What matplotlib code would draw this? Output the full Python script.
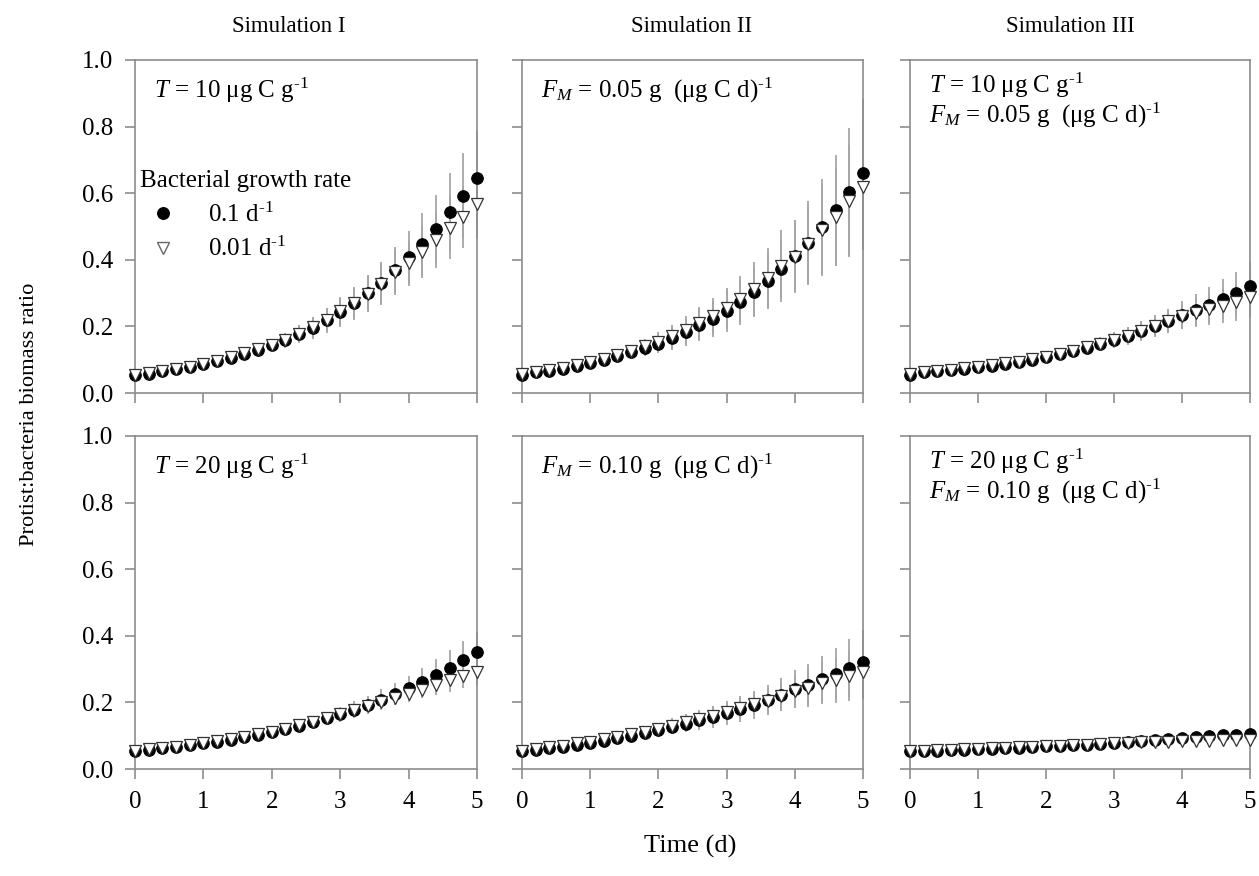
import matplotlib
matplotlib.use("Agg")
import matplotlib.pyplot as plt
from matplotlib.lines import Line2D

plt.rcParams['font.family'] = ['Liberation Serif', 'DejaVu Serif']
plt.rcParams['mathtext.fontset'] = 'custom'
plt.rcParams['mathtext.rm'] = 'Liberation Serif'
plt.rcParams['mathtext.it'] = 'Liberation Serif:italic'

# time grid (d)
times = [0.0, 0.2, 0.4, 0.6, 0.8, 1.0, 1.2, 1.4, 1.6, 1.8, 2.0, 2.2, 2.4,
         2.6, 2.8, 3.0, 3.2, 3.4, 3.6, 3.8, 4.0, 4.2, 4.4, 4.6, 4.8, 5.0]

# Simulation I, T = 10
sim1_t10_fast = [0.053, 0.058, 0.065, 0.071, 0.078, 0.086, 0.095, 0.106, 0.118, 0.130, 0.143, 0.158, 0.176,
                 0.195, 0.218, 0.244, 0.269, 0.299, 0.329, 0.369, 0.407, 0.447, 0.492, 0.543, 0.593, 0.647]
sim1_t10_slow = [0.054, 0.059, 0.066, 0.072, 0.079, 0.087, 0.096, 0.107, 0.119, 0.131, 0.145, 0.160, 0.178,
                 0.197, 0.220, 0.245, 0.270, 0.298, 0.328, 0.362, 0.389, 0.424, 0.459, 0.496, 0.528, 0.568]
sim1_t10_fast_sd = [0.003, 0.004, 0.005, 0.006, 0.007, 0.008, 0.009, 0.010, 0.012, 0.015, 0.018, 0.022, 0.027,
                    0.032, 0.038, 0.045, 0.050, 0.055, 0.065, 0.070, 0.079, 0.093, 0.103, 0.117, 0.127, 0.140]
sim1_t10_slow_sd = [0.003, 0.004, 0.005, 0.006, 0.007, 0.008, 0.009, 0.010, 0.012, 0.014, 0.017, 0.021, 0.025,
                    0.030, 0.035, 0.041, 0.046, 0.054, 0.059, 0.068, 0.068, 0.078, 0.085, 0.095, 0.094, 0.105]

# Simulation II, F_M = 0.05
sim2_f05_fast = [0.055, 0.062, 0.067, 0.073, 0.080, 0.090, 0.098, 0.110, 0.122, 0.134, 0.148, 0.164, 0.182,
                 0.203, 0.222, 0.246, 0.272, 0.302, 0.336, 0.372, 0.411, 0.451, 0.499, 0.550, 0.603, 0.662]
sim2_f05_slow = [0.056, 0.063, 0.069, 0.075, 0.083, 0.093, 0.102, 0.115, 0.127, 0.140, 0.154, 0.170, 0.189,
                 0.210, 0.231, 0.254, 0.282, 0.312, 0.344, 0.382, 0.409, 0.447, 0.490, 0.528, 0.577, 0.620]
sim2_f05_fast_sd = [0.002, 0.003, 0.004, 0.006, 0.007, 0.009, 0.011, 0.014, 0.018, 0.023, 0.028, 0.034, 0.041,
                    0.048, 0.055, 0.063, 0.067, 0.075, 0.083, 0.088, 0.105, 0.126, 0.143, 0.165, 0.192, 0.220]
sim2_f05_slow_sd = [0.002, 0.003, 0.004, 0.006, 0.007, 0.009, 0.011, 0.014, 0.018, 0.023, 0.028, 0.034, 0.041,
                    0.048, 0.055, 0.062, 0.070, 0.080, 0.092, 0.108, 0.110, 0.121, 0.138, 0.147, 0.168, 0.190]

# Simulation III, T = 10 and F_M = 0.05
sim3_a_fast = [0.055, 0.062, 0.065, 0.068, 0.073, 0.078, 0.082, 0.088, 0.093, 0.100, 0.108, 0.117, 0.125,
               0.135, 0.147, 0.159, 0.171, 0.187, 0.201, 0.216, 0.234, 0.249, 0.264, 0.281, 0.299, 0.321]
sim3_a_slow = [0.056, 0.063, 0.066, 0.069, 0.074, 0.079, 0.083, 0.089, 0.094, 0.101, 0.109, 0.118, 0.127,
               0.137, 0.148, 0.160, 0.172, 0.187, 0.201, 0.215, 0.230, 0.241, 0.251, 0.261, 0.272, 0.287]
sim3_a_fast_sd = [0.002, 0.003, 0.003, 0.004, 0.005, 0.006, 0.007, 0.008, 0.009, 0.010, 0.012, 0.014, 0.016,
                  0.018, 0.021, 0.024, 0.027, 0.030, 0.033, 0.037, 0.041, 0.047, 0.053, 0.060, 0.065, 0.072]
sim3_a_slow_sd = [0.002, 0.003, 0.003, 0.004, 0.005, 0.006, 0.007, 0.008, 0.009, 0.010, 0.012, 0.014, 0.016,
                  0.018, 0.020, 0.022, 0.025, 0.028, 0.031, 0.034, 0.038, 0.043, 0.048, 0.052, 0.055, 0.060]

# Simulation I, T = 20
sim1_t20_fast = [0.053, 0.058, 0.062, 0.066, 0.071, 0.077, 0.082, 0.088, 0.095, 0.103, 0.111, 0.120, 0.130,
                 0.140, 0.152, 0.164, 0.178, 0.192, 0.208, 0.225, 0.243, 0.260, 0.282, 0.303, 0.326, 0.350]
sim1_t20_slow = [0.054, 0.059, 0.063, 0.067, 0.072, 0.078, 0.083, 0.089, 0.096, 0.104, 0.112, 0.121, 0.131,
                 0.141, 0.152, 0.164, 0.177, 0.190, 0.202, 0.213, 0.224, 0.238, 0.251, 0.266, 0.280, 0.291]
sim1_t20_fast_sd = [0.002, 0.003, 0.003, 0.004, 0.004, 0.005, 0.006, 0.007, 0.008, 0.009, 0.011, 0.013, 0.015,
                    0.017, 0.019, 0.022, 0.025, 0.028, 0.031, 0.034, 0.037, 0.043, 0.048, 0.053, 0.057, 0.062]
sim1_t20_slow_sd = [0.002, 0.003, 0.003, 0.004, 0.004, 0.005, 0.006, 0.007, 0.008, 0.009, 0.010, 0.011, 0.013,
                    0.014, 0.016, 0.018, 0.019, 0.020, 0.021, 0.022, 0.023, 0.026, 0.030, 0.034, 0.038, 0.040]

# Simulation II, F_M = 0.10
sim2_f10_fast = [0.053, 0.058, 0.062, 0.066, 0.073, 0.078, 0.085, 0.092, 0.100, 0.108, 0.116, 0.126, 0.136,
                 0.146, 0.156, 0.168, 0.180, 0.193, 0.208, 0.223, 0.240, 0.253, 0.270, 0.286, 0.303, 0.321]
sim2_f10_slow = [0.054, 0.060, 0.065, 0.070, 0.077, 0.082, 0.089, 0.096, 0.104, 0.112, 0.120, 0.130, 0.140,
                 0.150, 0.160, 0.171, 0.183, 0.195, 0.205, 0.218, 0.233, 0.243, 0.258, 0.266, 0.278, 0.291]
sim2_f10_fast_sd = [0.002, 0.003, 0.004, 0.005, 0.006, 0.007, 0.009, 0.011, 0.013, 0.016, 0.019, 0.022, 0.025,
                    0.029, 0.033, 0.036, 0.039, 0.042, 0.045, 0.050, 0.056, 0.063, 0.070, 0.078, 0.087, 0.095]
sim2_f10_slow_sd = [0.002, 0.003, 0.004, 0.005, 0.006, 0.007, 0.009, 0.011, 0.013, 0.016, 0.019, 0.022, 0.025,
                    0.027, 0.028, 0.028, 0.031, 0.034, 0.038, 0.043, 0.050, 0.057, 0.064, 0.068, 0.075, 0.080]

# Simulation III, T = 20 and F_M = 0.10
sim3_b_fast = [0.053, 0.054, 0.055, 0.056, 0.058, 0.059, 0.061, 0.063, 0.064, 0.066, 0.068, 0.070, 0.072,
               0.073, 0.075, 0.078, 0.080, 0.083, 0.086, 0.090, 0.093, 0.096, 0.098, 0.101, 0.103, 0.105]
sim3_b_slow = [0.054, 0.055, 0.056, 0.057, 0.059, 0.060, 0.062, 0.063, 0.065, 0.067, 0.068, 0.070, 0.071,
               0.073, 0.075, 0.077, 0.078, 0.080, 0.081, 0.082, 0.083, 0.084, 0.085, 0.086, 0.087, 0.088]
sim3_b_fast_sd = [0.001, 0.001, 0.001, 0.001, 0.001, 0.001, 0.001, 0.002, 0.002, 0.002, 0.002, 0.002, 0.003,
                  0.003, 0.003, 0.003, 0.004, 0.004, 0.004, 0.005, 0.005, 0.006, 0.006, 0.007, 0.007, 0.008]
sim3_b_slow_sd = [0.001, 0.001, 0.001, 0.001, 0.001, 0.001, 0.001, 0.002, 0.002, 0.002, 0.002, 0.002, 0.002,
                  0.003, 0.003, 0.003, 0.003, 0.003, 0.004, 0.004, 0.004, 0.005, 0.005, 0.005, 0.006, 0.006]

col_titles = ['Simulation I', 'Simulation II', 'Simulation III']
panel_labels = [
    [r'$T$ = 10 μg C g$^{\text{-1}}$'],
    [r'$F_M$ = 0.05 g  (μg C d)$^{\text{-1}}$'],
    [r'$T$ = 10 μg C g$^{\text{-1}}$', r'$F_M$ = 0.05 g  (μg C d)$^{\text{-1}}$'],
    [r'$T$ = 20 μg C g$^{\text{-1}}$'],
    [r'$F_M$ = 0.10 g  (μg C d)$^{\text{-1}}$'],
    [r'$T$ = 20 μg C g$^{\text{-1}}$', r'$F_M$ = 0.10 g  (μg C d)$^{\text{-1}}$'],
]
panels = [
    (sim1_t10_fast, sim1_t10_slow, sim1_t10_fast_sd, sim1_t10_slow_sd),
    (sim2_f05_fast, sim2_f05_slow, sim2_f05_fast_sd, sim2_f05_slow_sd),
    (sim3_a_fast, sim3_a_slow, sim3_a_fast_sd, sim3_a_slow_sd),
    (sim1_t20_fast, sim1_t20_slow, sim1_t20_fast_sd, sim1_t20_slow_sd),
    (sim2_f10_fast, sim2_f10_slow, sim2_f10_fast_sd, sim2_f10_slow_sd),
    (sim3_b_fast, sim3_b_slow, sim3_b_fast_sd, sim3_b_slow_sd),
]

W, H = 1259, 876
fig = plt.figure(figsize=(W / 100, H / 100), dpi=100)

col_left = [135, 522, 910]
col_width = [342, 341, 340]
row_top = [60, 436]
row_height = 333
spine_col = '#8c8c8c'
bar_col = '#a6a6a6'
fs = 18

axes = []
for i in range(6):
    r, c = divmod(i, 3)
    ax = fig.add_axes([col_left[c] / W, 1 - (row_top[r] + row_height) / H,
                       col_width[c] / W, row_height / H])
    axes.append(ax)
    fast, slow, fast_sd, slow_sd = panels[i]

    ax.errorbar(times, fast, yerr=fast_sd, fmt='none', ecolor=bar_col,
                elinewidth=1.3, capsize=0, zorder=2, clip_on=False)
    ax.errorbar(times, slow, yerr=slow_sd, fmt='none', ecolor=bar_col,
                elinewidth=1.3, capsize=0, zorder=2, clip_on=False)
    ax.plot(times, fast, 'o', ms=8.3, mfc='black', mec='black', mew=0.8,
            zorder=3, clip_on=False)
    ax.plot(times, slow, 'v', ms=8.8, mfc='white', mec='#333333', mew=0.9,
            zorder=4, clip_on=False)

    ax.set_xlim(0, 5)
    ax.set_ylim(0, 1)
    ax.set_xticks([0, 1, 2, 3, 4, 5])
    ax.set_yticks([0.0, 0.2, 0.4, 0.6, 0.8, 1.0])
    for s in ax.spines.values():
        s.set_color(spine_col)
        s.set_linewidth(1.2)
    ax.tick_params(direction='out', length=7, width=1.2, color=spine_col,
                   labelsize=fs, pad=9, top=False, right=False)
    if c == 0:
        ax.set_yticklabels(['0.0', '0.2', '0.4', '0.6', '0.8', '1.0'])
    else:
        ax.set_yticklabels([])
    if r == 0:
        ax.set_xticklabels([])

    lines = panel_labels[i]
    if len(lines) == 1:
        ax.text(0.055, 0.91, lines[0], transform=ax.transAxes, fontsize=fs,
                ha='left', va='center')
    else:
        ax.text(0.055, 0.925, lines[0], transform=ax.transAxes, fontsize=fs,
                ha='left', va='center')
        ax.text(0.055, 0.835, lines[1], transform=ax.transAxes, fontsize=fs,
                ha='left', va='center')

# legend in first panel
handles = [
    Line2D([], [], ls='none', marker='o', ms=8.3, mfc='black', mec='black'),
    Line2D([], [], ls='none', marker='v', ms=8.8, mfc='white', mec='#666666'),
]
leg = axes[0].legend(handles, [r'0.1 d$^{\text{-1}}$', r'0.01 d$^{\text{-1}}$'],
                     title='Bacterial growth rate', loc='upper left',
                     bbox_to_anchor=(0.0, 0.685), frameon=False, fontsize=fs,
                     title_fontsize=fs, alignment='left', borderpad=0,
                     borderaxespad=0.2, handlelength=1.8, handletextpad=0.9,
                     labelspacing=0.42)

title_x = [289, 692, 1070]
for c in range(3):
    fig.text(title_x[c] / W, 1 - 26 / H, col_titles[c], fontsize=16.5,
             ha='center', va='center')

fig.text(30 / W, 1 - 414 / H, 'Protist:bacteria biomass ratio', fontsize=16.2,
         rotation=90, ha='center', va='center')
fig.text(690 / W, 1 - 846 / H, 'Time (d)', fontsize=19, ha='center', va='center')

fig.savefig('out.png', dpi=100)
